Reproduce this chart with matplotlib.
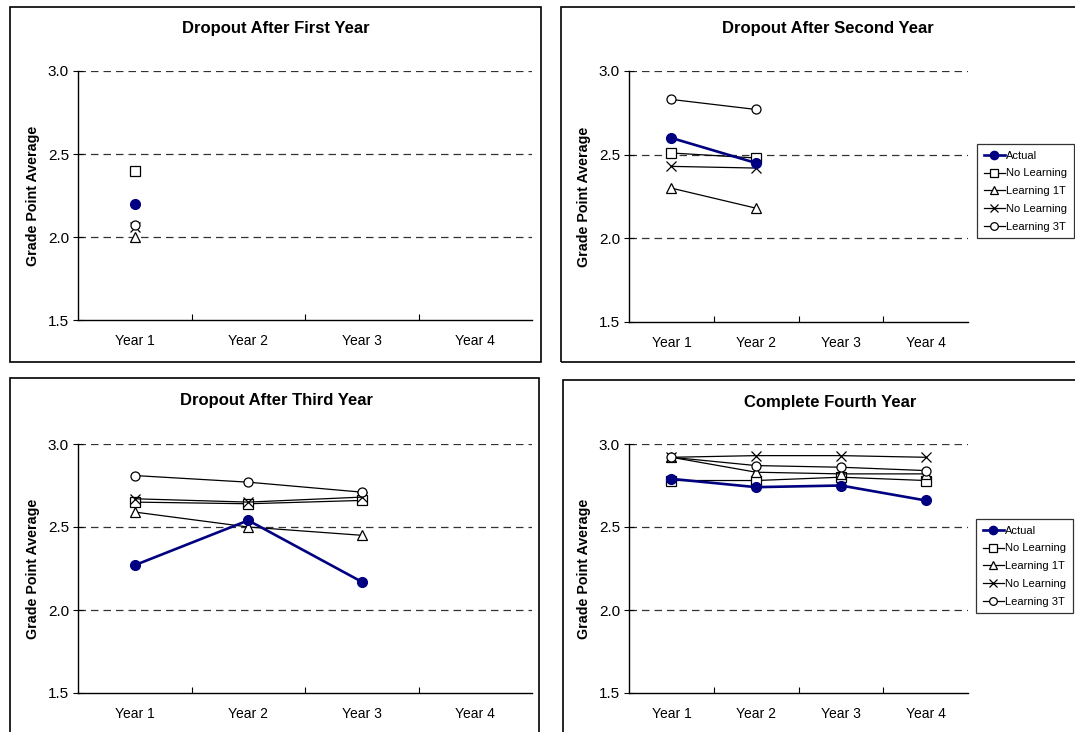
import matplotlib
matplotlib.use("Agg")
import matplotlib.pyplot as plt
from matplotlib.patches import Rectangle

plt.rcParams['font.family'] = ['Liberation Sans', 'DejaVu Sans']

years = ["Year 1", "Year 2", "Year 3", "Year 4"]
series_names = ["Actual", "No Learning", "Learning 1T", "No Learning", "Learning 3T"]

# GPA by panel, one list per series (Actual, No Learning sq, Learning 1T, No Learning x, Learning 3T)
first_year = [[2.20], [2.40], [2.00], [2.06], [2.07]]
second_year = [[2.60, 2.45], [2.51, 2.48], [2.30, 2.18], [2.43, 2.42], [2.83, 2.77]]
third_year = [[2.27, 2.54, 2.17], [2.65, 2.64, 2.66], [2.59, 2.50, 2.45],
              [2.67, 2.65, 2.68], [2.81, 2.77, 2.71]]
fourth_year = [[2.79, 2.74, 2.75, 2.66], [2.78, 2.78, 2.80, 2.78], [2.92, 2.83, 2.82, 2.82],
               [2.92, 2.93, 2.93, 2.92], [2.92, 2.87, 2.86, 2.84]]

titles = ["Dropout After First Year", "Dropout After Second Year",
          "Dropout After Third Year", "Complete Fourth Year"]
panels = [first_year, second_year, third_year, fourth_year]
show_legend = [False, True, False, True]

markers = ["o", "s", "^", "x", "o"]

W, H = 1075, 732
fig = plt.figure(figsize=(W / 100, H / 100), dpi=100)

# borders of the four chart boxes (pixels: left, top, right, bottom)
boxes = [(10, 7, 541, 362), (561, 7, 1095, 362), (10, 378, 539, 745), (563, 380, 1095, 745)]
# axes rects in pixels (left, top, right, bottom)
axes_px = [(78, 71, 532, 320), (629, 71, 968, 322), (78, 444, 532, 693), (629, 444, 968, 693)]
title_px = [(276, 28), (828, 28), (276, 400), (830, 402)]
legend_px = [None, (977, 144), None, (976, 519)]

for b in boxes:
    l, t, r, btm = b
    fig.patches.append(Rectangle((l / W, 1 - btm / H), (r - l) / W, (btm - t) / H,
                                 transform=fig.transFigure, fill=False,
                                 edgecolor='black', linewidth=1.2))

for i in range(4):
    l, t, r, btm = axes_px[i]
    ax = fig.add_axes([l / W, 1 - btm / H, (r - l) / W, (btm - t) / H])
    data = panels[i]
    for j, vals in enumerate(data):
        x = list(range(len(vals)))
        if j == 0:
            ax.plot(x, vals, color='#000080', lw=1.9, marker='o', ms=7,
                    mfc='#000080', mec='#000080', label=series_names[j], zorder=5)
        else:
            ax.plot(x, vals, color='black', lw=0.9, marker=markers[j], ms=6.5,
                    mfc='white' if markers[j] != 'x' else 'black', mec='black',
                    mew=0.9, label=series_names[j], zorder=4)
    ax.set_xlim(-0.5, 3.5)
    ax.set_ylim(1.5, 3.0)
    ax.set_yticks([1.5, 2.0, 2.5, 3.0])
    ax.set_yticklabels(["1.5", "2.0", "2.5", "3.0"])
    ax.set_xticks(range(4))
    ax.set_xticklabels(years)
    ax.set_xticks([0.5, 1.5, 2.5], minor=True)
    ax.tick_params(axis='x', which='major', length=0, labelsize=10, pad=10)
    ax.tick_params(axis='x', which='minor', direction='in', length=4, width=0.8)
    ax.tick_params(axis='y', direction='inout', length=7, width=0.8, labelsize=11, pad=3)
    for y in [2.0, 2.5, 3.0]:
        ax.axhline(y, color='#333333', lw=0.9, ls=(0, (6, 4)), zorder=1)
    ax.spines['top'].set_visible(False)
    ax.spines['right'].set_visible(False)
    ax.spines['left'].set_linewidth(1.0)
    ax.spines['bottom'].set_linewidth(1.0)
    ax.set_ylabel("Grade Point Average", fontsize=10.3, fontweight='bold', labelpad=6)
    tx, ty = title_px[i]
    fig.text(tx / W, 1 - ty / H, titles[i], fontsize=12, fontweight='bold',
             ha='center', va='center')
    if show_legend[i]:
        lx, ly = legend_px[i]
        leg = fig.legend(*ax.get_legend_handles_labels(), loc='upper left',
                         bbox_to_anchor=(lx / W, 1 - ly / H), fontsize=8,
                         frameon=True, fancybox=False, edgecolor='black',
                         handlelength=1.9, handletextpad=0.1, labelspacing=0.7,
                         borderpad=0.6, borderaxespad=0, markerscale=0.85)
        leg.get_frame().set_linewidth(0.9)

fig.savefig("out.png", dpi=100)
